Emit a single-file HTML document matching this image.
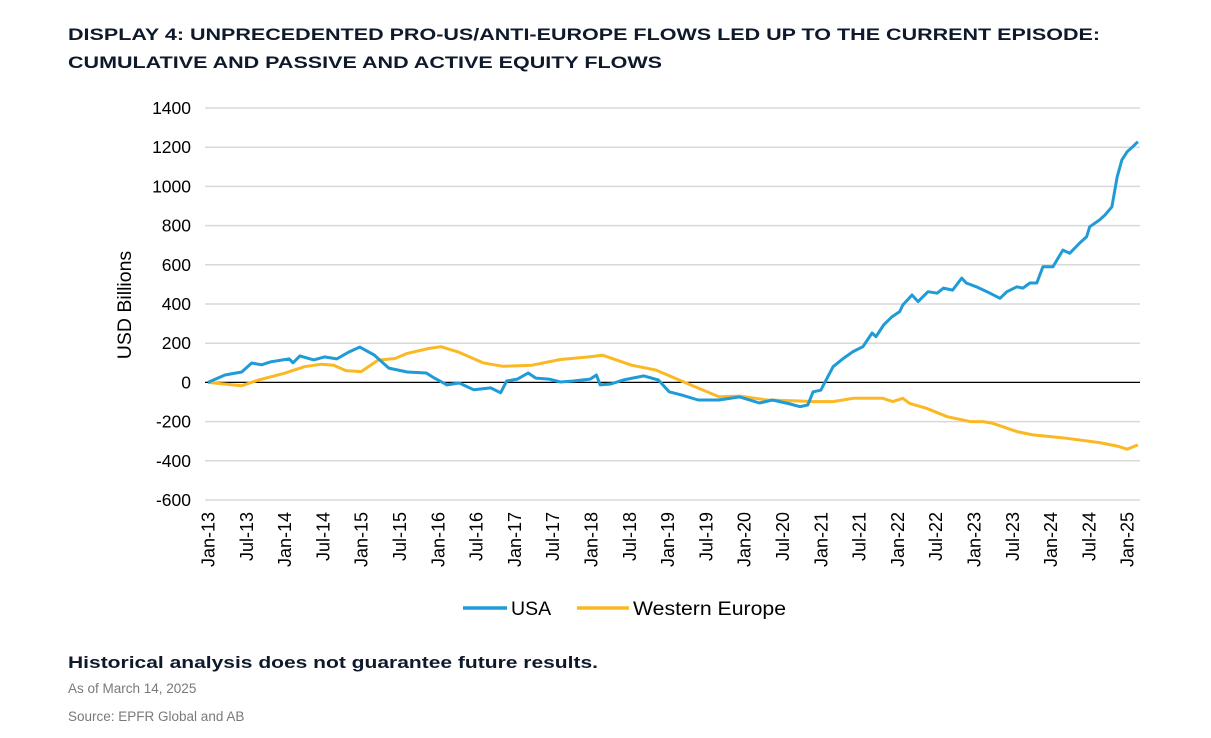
<!DOCTYPE html>
<html><head><meta charset="utf-8"><style>
html,body{margin:0;padding:0;background:#fff;}
svg{display:block;font-family:"Liberation Sans",Arial,sans-serif;}
</style></head><body>
<svg id="c" width="1211" height="738" viewBox="0 0 1211 738">
<text x="68" y="40" font-size="17" font-weight="bold" fill="#0e1a2b" textLength="1032" lengthAdjust="spacingAndGlyphs">DISPLAY 4: UNPRECEDENTED PRO-US/ANTI-EUROPE FLOWS LED UP TO THE CURRENT EPISODE:</text>
<text x="68" y="68" font-size="17" font-weight="bold" fill="#0e1a2b" textLength="594" lengthAdjust="spacingAndGlyphs">CUMULATIVE AND PASSIVE AND ACTIVE EQUITY FLOWS</text>
<g id="grid"></g>
<g id="yt"></g>
<g id="xt"></g>
<text transform="translate(131,305) rotate(-90)" text-anchor="middle" font-size="19.5" fill="#000">USD Billions</text>
<g id="series"></g>
<g>
<g><line x1="463" y1="608" x2="507" y2="608" stroke="#1f9bd7" stroke-width="3.5"/><text x="511" y="615" font-size="19.5" fill="#000">USA</text></g>
<g><line x1="577" y1="608" x2="629" y2="608" stroke="#fbb823" stroke-width="3.5"/><text x="633" y="615" font-size="19.5" fill="#000" textLength="153" lengthAdjust="spacingAndGlyphs">Western Europe</text></g>
</g>
<text x="68" y="668" font-size="16.5" font-weight="bold" fill="#0e1a2b" textLength="530" lengthAdjust="spacingAndGlyphs">Historical analysis does not guarantee future results.</text>
<text x="68" y="693" font-size="13.5" fill="#7a7a7a">As of March 14, 2025</text>
<text x="68" y="721" font-size="13.5" fill="#7a7a7a">Source: EPFR Global and AB</text>
</svg>
<script>
const yTicks=[1400,1200,1000,800,600,400,200,0,-200,-400,-600];
const xTickLabels=["Jan-13","Jul-13","Jan-14","Jul-14","Jan-15","Jul-15","Jan-16","Jul-16","Jan-17","Jul-17","Jan-18","Jul-18","Jan-19","Jul-19","Jan-20","Jul-20","Jan-21","Jul-21","Jan-22","Jul-22","Jan-23","Jul-23","Jan-24","Jul-24","Jan-25"];
const usaT=[2013.0,2013.22,2013.44,2013.57,2013.7,2013.82,2014.06,2014.11,2014.2,2014.38,2014.52,2014.68,2014.84,2014.98,2015.17,2015.36,2015.6,2015.85,2015.93,2016.12,2016.28,2016.47,2016.69,2016.82,2016.9,2017.04,2017.18,2017.28,2017.45,2017.6,2017.77,2017.99,2018.07,2018.12,2018.26,2018.42,2018.69,2018.88,2019.02,2019.18,2019.4,2019.67,2019.94,2020.2,2020.37,2020.6,2020.73,2020.83,2020.9,2021.0,2021.16,2021.3,2021.42,2021.55,2021.67,2021.72,2021.82,2021.93,2022.03,2022.07,2022.19,2022.27,2022.4,2022.52,2022.6,2022.72,2022.84,2022.9,2023.03,2023.17,2023.34,2023.43,2023.56,2023.64,2023.73,2023.82,2023.9,2024.03,2024.16,2024.25,2024.38,2024.47,2024.51,2024.64,2024.71,2024.8,2024.87,2024.93,2025.0,2025.07,2025.14];
const usaV=[0,38,53,99,90,105,120,100,135,115,130,120,155,180,140,73,53,48,28,-13,-3,-38,-28,-53,7,17,48,22,17,2,7,17,38,-13,-8,12,33,12,-48,-64,-90,-90,-74,-105,-90,-110,-124,-115,-48,-40,80,124,157,182,252,233,293,335,361,395,446,412,463,455,481,471,532,507,488,463,429,463,488,481,507,507,590,590,675,659,711,743,794,829,854,896,1049,1134,1177,1202,1228];
const eurT=[2013.0,2013.44,2013.66,2013.99,2014.26,2014.48,2014.64,2014.8,2015.0,2015.22,2015.44,2015.6,2015.88,2016.04,2016.26,2016.59,2016.85,2017.23,2017.6,2017.99,2018.15,2018.53,2018.85,2019.3,2019.67,2019.94,2020.3,2020.73,2020.9,2021.16,2021.42,2021.81,2021.94,2022.07,2022.16,2022.38,2022.65,2022.95,2023.12,2023.25,2023.56,2023.77,2024.21,2024.64,2024.87,2025.0,2025.14];
const eurV=[0,-17,12,46,80,93,88,60,55,114,122,148,173,182,156,100,82,88,117,131,139,88,63,-13,-73,-70,-90,-95,-98,-98,-81,-81,-98,-81,-107,-132,-175,-200,-200,-209,-251,-268,-285,-307,-325,-341,-319];

const NS="http://www.w3.org/2000/svg";
const X0=208,PX=76.6,Y0=382.4,PY=39.2/200;
function xs(t){return X0+(t-2013)*PX;}
function ys(v){return Y0-v*PY;}
function mk(tag,attrs,parent){const e=document.createElementNS(NS,tag);for(const k in attrs)e.setAttribute(k,attrs[k]);parent.appendChild(e);return e;}
const grid=document.getElementById('grid'),yt=document.getElementById('yt'),xt=document.getElementById('xt'),ser=document.getElementById('series');
yTicks.forEach(v=>{
  if(v!==0){const l=mk('line',{x1:205,x2:1140,y1:ys(v),y2:ys(v),stroke:'#d9d9d9','stroke-width':1.5},grid);
  
  }
  const t=mk('text',{x:191,y:ys(v)+6,'text-anchor':'end','font-size':17.5,fill:'#000'},yt);
  t.textContent=v;
  
  
});
xTickLabels.forEach((s,i)=>{
  const x=xs(2013+i*0.5);
  const t=mk('text',{transform:`translate(${x+6.5},512) rotate(-90)`,'text-anchor':'end','font-size':18,fill:'#000'},xt);
  t.textContent=s;
  
  
});
const z=mk('line',{x1:205,x2:1140,y1:ys(0),y2:ys(0),stroke:'#000','stroke-width':1.3},grid);


function path(T,V){return T.map((t,i)=>(i?'L':'M')+xs(t).toFixed(1)+','+ys(V[i]).toFixed(1)).join('');}
const pe=mk('path',{d:path(eurT,eurV),fill:'none',stroke:'#fbb823','stroke-width':3,'stroke-linejoin':'round'},ser);


const pu=mk('path',{d:path(usaT,usaV),fill:'none',stroke:'#1f9bd7','stroke-width':3,'stroke-linejoin':'round'},ser);


</script>
</body></html>
